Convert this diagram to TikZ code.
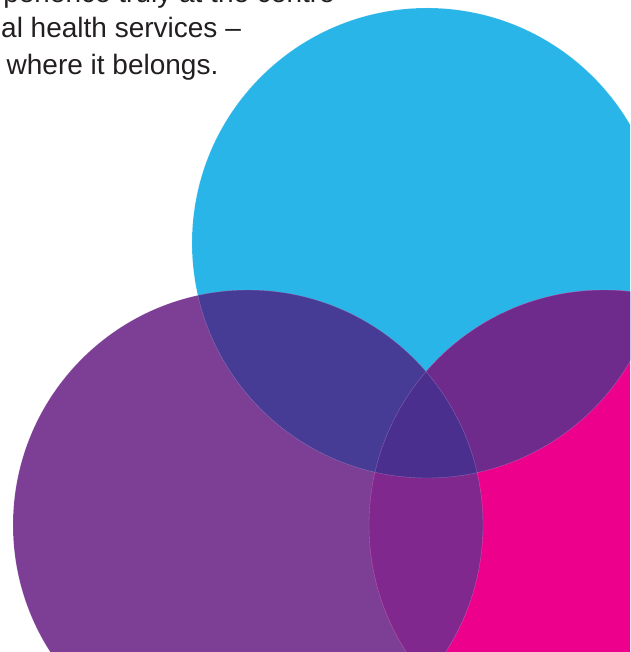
\documentclass[tikz,border=0pt]{standalone}
\usepackage{fontspec}
\setmainfont{Liberation Sans}
\definecolor{discCyan}{HTML}{29B5E8}
\definecolor{discPurple}{HTML}{7D3E96}
\definecolor{discMagenta}{HTML}{EC008C}
\definecolor{cyanPurple}{HTML}{463C96}
\definecolor{cyanMagenta}{HTML}{6E2B8C}
\definecolor{purpleMagenta}{HTML}{80288E}
\definecolor{allThree}{HTML}{4A2F8F}
\definecolor{bodyText}{HTML}{231F20}
\begin{document}
\begin{tikzpicture}[x=1pt,y=-1pt,
    quote/.style={text=bodyText,font=\fontsize{28}{37}\selectfont,inner sep=0pt}]
    \useasboundingbox (0,0) rectangle (630,652);
    \clip (0,0) rectangle (630,652);
    \def\rad{235pt}
    \coordinate (cyanC) at (427,243);
    \coordinate (purpleC) at (248,525);
    \coordinate (magentaC) at (604,525);
    % the three discs
    \fill[discCyan] (cyanC) circle (\rad);
    \fill[discPurple] (purpleC) circle (\rad);
    \fill[discMagenta] (magentaC) circle (\rad);
    % overlaps
    \begin{scope}
        \clip (cyanC) circle (\rad);
        \fill[cyanPurple] (purpleC) circle (\rad);
        \fill[cyanMagenta] (magentaC) circle (\rad);
    \end{scope}
    \begin{scope}
        \clip (purpleC) circle (\rad);
        \fill[purpleMagenta] (magentaC) circle (\rad);
        \clip (cyanC) circle (\rad);
        \fill[allThree] (magentaC) circle (\rad);
    \end{scope}
    \foreach \c in {cyanC,purpleC,magentaC}{
        \draw[white,opacity=.25,line width=.4pt] (\c) circle (\rad);
    }
    % text
    \node[quote,anchor=base east] (lineOne) at (335,3) {perience truly at the centre};
    \node[quote,anchor=base west] (lineTwo) at (1,38) {al health services –};
    \node[quote,anchor=base west] (lineThree) at (6.5,75) {where it belongs.};
\end{tikzpicture}
\end{document}
